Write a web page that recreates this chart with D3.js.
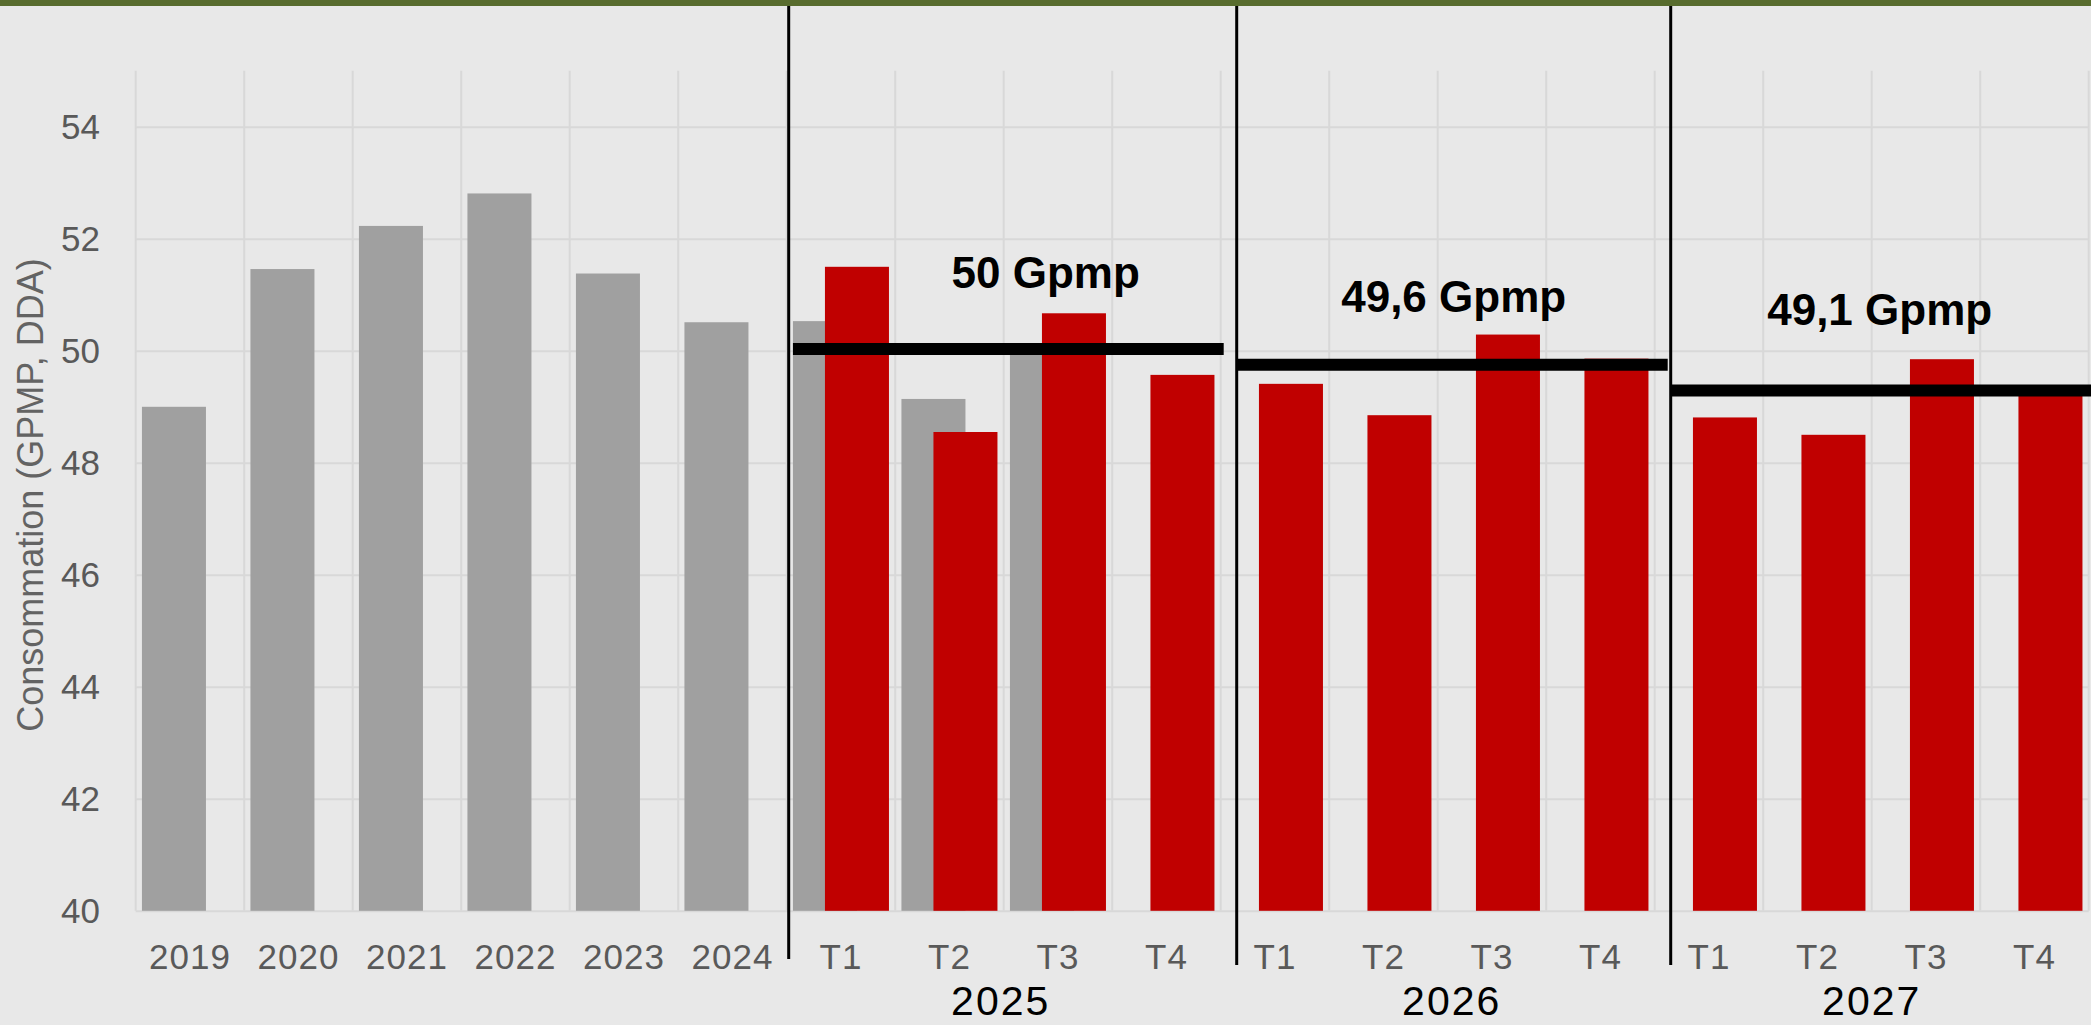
<!DOCTYPE html>
<html>
<head>
<meta charset="utf-8">
<script src="https://cdn.jsdelivr.net/npm/d3@7"></script>
<style>
  html, body { margin: 0; padding: 0; background: #e8e8e8; }
  svg { display: block; }
  text { font-family: "Liberation Sans", Arial, sans-serif; }
</style>
</head>
<body>
<svg id="chart" width="2091" height="1025"></svg>
<script>
// ---------- DATA ----------
const categories = ["2019","2020","2021","2022","2023","2024",
  "2025 T1","2025 T2","2025 T3","2025 T4",
  "2026 T1","2026 T2","2026 T3","2026 T4",
  "2027 T1","2027 T2","2027 T3","2027 T4"];
const tickLabels = ["2019","2020","2021","2022","2023","2024",
  "T1","T2","T3","T4","T1","T2","T3","T4","T1","T2","T3","T4"];
// grey series (historical / previous estimate)
const greyValues = [49.0, 51.46, 52.23, 52.81, 51.38, 50.51,
  50.53, 49.14, 50.05, null, null, null, null, null, null, null, null, null];
// red series (quarterly forecast)
const redValues = [null, null, null, null, null, null,
  51.5, 48.55, 50.67, 49.57,
  49.41, 48.85, 50.29, 49.86,
  48.81, 48.5, 49.85, 49.25];
const yearGroups = ["2025", "2026", "2027"];
const groupFirst = ["2025 T1", "2026 T1", "2027 T1"];
const groupLast = ["2025 T4", "2026 T4", "2027 T4"];
const yearAverages = [50.03, 49.75, 49.29];
const averageLabels = ["50 Gpmp", "49,6 Gpmp", "49,1 Gpmp"];
const yTicks = [40, 42, 44, 46, 48, 50, 52, 54];
const yTitle = "Consommation (GPMP, DDA)";

// ---------- LAYOUT ----------
const W = 2091, H = 1025;
const plot = { left: 135.7, right: 2088.7, top: 70.8, bottom: 910.8 };
const dividerDx = [2, 16, 16];
const avgLabelDx = [42, 16, 8];
const avgLabelDy = [-61, -53, -66];
const groupLabelDx = [-3, 14, 0];
const groupLabelY = [1015, 1015, 1015];

const svg = d3.select("#chart");
svg.append("rect").attr("width", W).attr("height", H).attr("fill", "#e8e8e8");
svg.append("rect").attr("width", W).attr("height", 6).attr("fill", "#586c2e");

const x = d3.scaleBand().domain(categories).range([plot.left, plot.right]).padding(0);
const y = d3.scaleLinear().domain([40, 55]).range([plot.bottom, plot.top]);
const bw = x.bandwidth();
const barW = bw * 0.59;
const offGrey = (bw - 1.5 * barW) / 2;
const offRed = offGrey + barW / 2;

// vertical grid lines at band boundaries
const bounds = categories.map(c => x(c)).concat([x(categories[categories.length - 1]) + bw]);
svg.append("g").selectAll("line").data(bounds).join("line")
  .attr("x1", d => d).attr("x2", d => d)
  .attr("y1", plot.top).attr("y2", plot.bottom)
  .attr("stroke", "#d8d8d8").attr("stroke-width", 2);

// y axis with horizontal gridlines
const yAxis = svg.append("g").attr("transform", `translate(${plot.left},0)`)
  .call(d3.axisLeft(y).tickValues(yTicks).tickSize(-(plot.right - plot.left)).tickPadding(35.7));
yAxis.select(".domain").remove();
yAxis.selectAll(".tick line").attr("stroke", "#d8d8d8").attr("stroke-width", 2);
yAxis.selectAll(".tick text").attr("fill", "#595959").attr("font-size", 35)
  .attr("font-family", "'Liberation Sans', Arial, sans-serif");

// x axis
const xAxis = svg.append("g").attr("transform", `translate(0,${plot.bottom})`)
  .call(d3.axisBottom(x).tickSize(0).tickPadding(33.6).tickFormat((d, i) => tickLabels[i]));
xAxis.select(".domain").remove();
xAxis.selectAll(".tick text").attr("fill", "#595959").attr("font-size", 35)
  .attr("letter-spacing", 1)
  .attr("font-family", "'Liberation Sans', Arial, sans-serif");

// y title
svg.append("text")
  .attr("transform", `translate(42.5,495) rotate(-90)`)
  .attr("text-anchor", "middle").attr("font-size", 36).attr("fill", "#636363")
  .text(yTitle);

// grey bars
svg.append("g").selectAll("rect")
  .data(categories.map((c, i) => ({ c, v: greyValues[i] })).filter(d => d.v != null))
  .join("rect")
  .attr("x", d => x(d.c) + offGrey).attr("width", barW)
  .attr("y", d => y(d.v)).attr("height", d => y(40) - y(d.v))
  .attr("fill", "#a0a0a0");

// red bars
svg.append("g").selectAll("rect")
  .data(categories.map((c, i) => ({ c, v: redValues[i] })).filter(d => d.v != null))
  .join("rect")
  .attr("x", d => x(d.c) + offRed).attr("width", barW)
  .attr("y", d => y(d.v)).attr("height", d => y(40) - y(d.v))
  .attr("fill", "#c00000");

// dividers
const divX = groupFirst.map((c, i) => x(c) + dividerDx[i]);
svg.append("g").selectAll("line").data(divX).join("line")
  .attr("x1", d => d).attr("x2", d => d)
  .attr("y1", 6).attr("y2", (d, i) => i === 0 ? 959 : 965)
  .attr("stroke", "#000").attr("stroke-width", 3);

// average lines
const avgSegs = yearAverages.map((v, i) => {
  let x1, x2;
  if (i === 0) { x1 = x(groupFirst[0]) + offGrey; x2 = x(groupLast[0]) + bw + 3; }
  else { x1 = divX[i]; x2 = i < divX.length - 1 ? divX[i + 1] - 3 : W; }
  return { v, x1, x2 };
});
svg.append("g").selectAll("line").data(avgSegs).join("line")
  .attr("x1", d => d.x1).attr("x2", d => d.x2)
  .attr("y1", d => y(d.v)).attr("y2", d => y(d.v))
  .attr("stroke", "#000").attr("stroke-width", 12);

// average labels
svg.append("g").selectAll("text").data(averageLabels).join("text")
  .attr("x", (d, i) => (x(groupFirst[i]) + x(groupLast[i]) + bw) / 2 + avgLabelDx[i])
  .attr("y", (d, i) => y(yearAverages[i]) + avgLabelDy[i])
  .attr("text-anchor", "middle").attr("font-size", 44).attr("font-weight", "bold")
  .attr("fill", "#000").text(d => d);

// year group labels
svg.append("g").selectAll("text").data(yearGroups).join("text")
  .attr("x", (d, i) => (x(groupFirst[i]) + x(groupLast[i]) + bw) / 2 + groupLabelDx[i])
  .attr("y", (d, i) => groupLabelY[i])
  .attr("text-anchor", "middle").attr("font-size", 41).attr("letter-spacing", 2)
  .attr("fill", "#000").text(d => d);
</script>
</body>
</html>
